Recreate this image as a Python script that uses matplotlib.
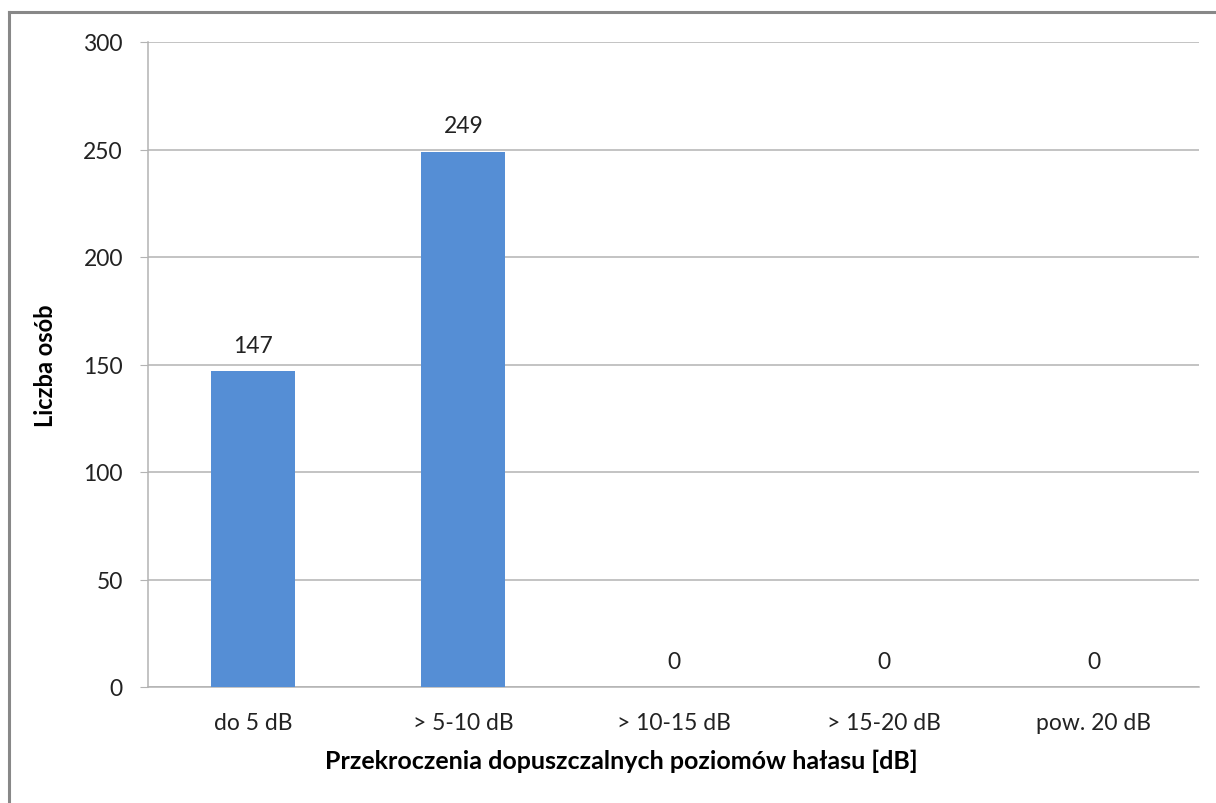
import matplotlib.pyplot as plt
from matplotlib.lines import Line2D
import numpy as np

plt.rcParams['font.family'] = ['Lato', 'DejaVu Sans']

categories = ["do 5 dB", "> 5-10 dB", "> 10-15 dB", "> 15-20 dB", "pow. 20 dB"]
counts = [147, 249, 0, 0, 0]
yticks = [0, 50, 100, 150, 200, 250, 300]

barcolor = "#558ed5"
gridcolor = "#b3b3b3"
fs = 16.5

fig = plt.figure(figsize=(12.16, 8.04), dpi=100)
ax = fig.add_axes([148/1216, 1 - 688/804, (1199 - 148)/1216, (688 - 43)/804])

x = np.arange(len(categories))
ax.bar(x, counts, width=0.4, color=barcolor, zorder=3)
for xi, v in zip(x, counts):
    ax.annotate(str(v), (xi, v), xytext=(0, 11), textcoords="offset points",
                ha="center", va="bottom", fontsize=fs, color="#222222")

ax.set_xlim(-0.5, len(categories) - 0.5)
ax.set_ylim(0, 300)
ax.set_yticks(yticks)
ax.set_xticks(x)
ax.set_xticklabels(categories)
ax.yaxis.grid(True, color=gridcolor, linewidth=1.1, zorder=0)
ax.set_axisbelow(True)

for s in ["top", "right"]:
    ax.spines[s].set_visible(False)
ax.spines["left"].set_color(gridcolor)
ax.spines["bottom"].set_color(gridcolor)
ax.spines["left"].set_linewidth(1.1)
ax.spines["bottom"].set_linewidth(1.1)
ax.tick_params(axis="y", length=6, color=gridcolor, labelsize=fs, pad=12, labelcolor="#222222")
ax.tick_params(axis="x", length=0, labelsize=fs, pad=18, labelcolor="#222222")

ax.set_ylabel("Liczba osób", fontsize=17, fontweight="bold", labelpad=19)
ax.set_xlabel("Przekroczenia dopuszczalnych poziomów hałasu [dB]", fontsize=18,
              fontweight="bold", labelpad=13)
ax.xaxis.set_label_coords(0.45, -0.095)

# outer chart frame
fig.add_artist(Line2D([9/1216, 9/1216], [0, 1 - 13/804], color="#888888", linewidth=2.2))
fig.add_artist(Line2D([9/1216, 1], [1 - 13/804, 1 - 13/804], color="#888888", linewidth=2.2))

fig.savefig("out.png", dpi=100)
